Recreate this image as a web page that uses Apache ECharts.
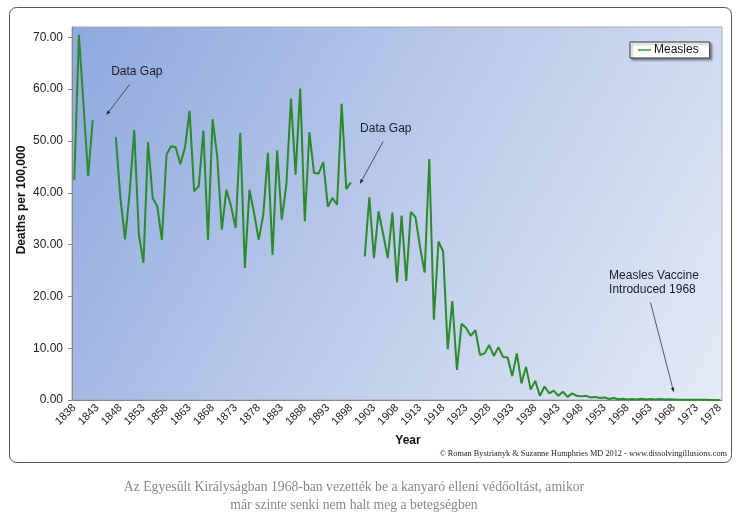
<!DOCTYPE html>
<html>
<head>
<meta charset="utf-8">
<script src="https://cdn.jsdelivr.net/npm/echarts@6/dist/echarts.min.js"></script>
<style>
html,body{margin:0;padding:0;background:#fff;}
#chart{width:754px;height:532px;}
</style>
</head>
<body>
<div id="chart"></div>
<script>
// years 1838 - 1978
var years = [];
for (var y = 1838; y <= 1978; y++) { years.push(String(y)); }

// deaths per 100,000 (null = data gap)
var measles = [
	42.5, 70.5, 57, 43.2, 54.1, null, null, null, null, 50.8,   // 1838-1847
	39, 31.0, 40, 52.1, 32, 26.5, 49.8, 39.0, 37.4, 30.9,      // 1848-1857
	47.4, 49.0, 48.8, 45.5, 48.7, 55.8, 40.3, 41.3, 52.0, 30.9, // 1858-1867
	54.2, 47, 32.9, 40.6, 37.4, 33.2, 51.6, 25.5, 40.6, 36.1,  // 1868-1877
	30.9, 35.8, 47.7, 28.0, 48.2, 34.8, 41.6, 58.2, 43.5, 60.1, // 1878-1887
	34.5, 51.7, 43.8, 43.7, 45.9, 37.3, 39.0, 37.7, 57.2, 40.7, // 1888-1897
	42.0, null, null, 27.7, 39.1, 27.4, 36.4, 32, 27.4, 36.2,  // 1898-1907
	22.7, 35.6, 23.0, 36.3, 35.3, 29.5, 24.6, 46.5, 15.5, 30.6, // 1908-1917
	28.7, 9.8, 19.1, 5.8, 14.7, 13.9, 12.4, 13.5, 8.7, 9.0,    // 1918-1927
	10.6, 8.5, 10.2, 8.3, 8.2, 4.6, 9.0, 3.2, 6.4, 2.0,        // 1928-1937
	3.7, 0.8, 2.6, 1.3, 1.8, 0.8, 1.6, 0.6, 1.3, 0.8,          // 1938-1947
	0.7, 0.8, 0.5, 0.6, 0.4, 0.5, 0.2, 0.4, 0.15, 0.25,        // 1948-1957
	0.1, 0.2, 0.1, 0.25, 0.1, 0.2, 0.1, 0.2, 0.1, 0.15,        // 1958-1967
	0.1, 0.05, 0.05, 0.04, 0.04, 0.03, 0.03, 0.03, 0.02, 0.02, // 1968-1977
	0.02                                                        // 1978
];

// annotation anchors in data space: text position, arrow start, arrow end
var notes = [
	{ text: 'Data Gap', at: ['1846', 63.4], from: ['1850', 60.9], to: ['1845', 55.1] },
	{ text: 'Data Gap', at: ['1900', 52.3], from: ['1905', 49.9], to: ['1900', 41.8] },
	{ text: 'Measles Vaccine\nIntroduced 1968', at: ['1954', 22.6], from: ['1963', 18.8], to: ['1968', 1.6] }
];

var chart = echarts.init(document.getElementById('chart'));
var option = {
	animation: false,
	backgroundColor: '#fff',
	grid: {
		left: 72, top: 27, right: 32, bottom: 132,
		show: true,
		borderColor: '#a8a8a8',
		borderWidth: 1,
		backgroundColor: new echarts.graphic.LinearGradient(0, 0, 1, 1, [
			{ offset: 0, color: '#8ea9de' },
			{ offset: 0.5, color: '#bccbea' },
			{ offset: 1, color: '#e4ebf7' }
		])
	},
	legend: {
		data: ['Measles'],
		left: 630, top: 42,
		padding: [2, 11, 2, 8],
		backgroundColor: '#fff',
		borderColor: '#333',
		borderWidth: 1,
		borderRadius: 0,
		shadowColor: 'rgba(0,0,0,0.35)',
		shadowBlur: 2,
		shadowOffsetX: 2,
		shadowOffsetY: 2,
		icon: 'rect',
		itemWidth: 13,
		itemHeight: 1.5,
		itemGap: 0,
		textStyle: { fontFamily: 'Liberation Sans', fontSize: 12, color: '#111', padding: [0, 0, 0, -2] }
	},
	xAxis: {
		type: 'category',
		data: years,
		boundaryGap: true,
		axisLine: { lineStyle: { color: '#888', width: 1 } },
		axisTick: { interval: 0, length: 3, lineStyle: { color: '#888' } },
		axisLabel: {
			interval: 4,
			rotate: 45,
			margin: 6,
			fontFamily: 'Liberation Sans',
			fontSize: 11,
			color: '#222'
		},
		splitLine: { show: false }
	},
	yAxis: {
		type: 'value',
		min: 0, max: 72, interval: 10,
		axisLine: { show: true, lineStyle: { color: '#888' } },
		axisTick: { show: true, length: 4, lineStyle: { color: '#888' } },
		axisLabel: {
			showMaxLabel: false,
			margin: 9,
			fontFamily: 'Liberation Sans',
			fontSize: 12,
			color: '#222',
			formatter: function (v) { return v.toFixed(2); }
		},
		splitLine: { show: false }
	},
	series: [{
		name: 'Measles',
		type: 'line',
		data: measles,
		connectNulls: false,
		showSymbol: false,
		symbol: 'none',
		lineStyle: { color: '#2b8a2b', width: 2 },
		itemStyle: { color: '#3a9a3a' }
	}]
};
chart.setOption(option);

// frame, axis titles, credits and caption
var g = [
	{
		type: 'rect', z: -1, silent: true,
		shape: { x: 9.5, y: 7.5, width: 722, height: 455, r: 7 },
		style: { fill: 'none', stroke: '#555', lineWidth: 1 }
	},
	{
		type: 'text', x: 408, y: 441,
		style: { text: 'Year', fill: '#111', font: 'bold 12px "Liberation Sans"', align: 'center', verticalAlign: 'middle' }
	},
	{
		type: 'text', x: 22, y: 200, rotation: Math.PI / 2,
		style: { text: 'Deaths per 100,000', fill: '#111', font: 'bold 12px "Liberation Sans"', align: 'center', verticalAlign: 'middle' }
	},
	{
		type: 'text', x: 727, y: 454,
		style: { text: '\u00a9 Roman Bystrianyk & Suzanne Humphries MD 2012 - www.dissolvingillusions.com', fill: '#222', font: '8.3px "Liberation Serif"', align: 'right', verticalAlign: 'middle' }
	},
	{
		type: 'text', x: 354, y: 487,
		style: { text: 'Az Egyes\u00fclt Kir\u00e1lys\u00e1gban 1968-ban vezett\u00e9k be a kanyar\u00f3 elleni v\u00e9d\u0151olt\u00e1st, amikor', fill: '#888', font: '13.7px "Liberation Serif"', align: 'center', verticalAlign: 'middle' }
	},
	{
		type: 'text', x: 354, y: 505,
		style: { text: 'm\u00e1r szinte senki nem halt meg a betegs\u00e9gben', fill: '#888', font: '13.7px "Liberation Serif"', align: 'center', verticalAlign: 'middle' }
	}
];

// annotations placed through the chart's own scales
notes.forEach(function (n) {
	var t = chart.convertToPixel({ gridIndex: 0 }, n.at);
	var a = chart.convertToPixel({ gridIndex: 0 }, n.from);
	var b = chart.convertToPixel({ gridIndex: 0 }, n.to);
	g.push({
		type: 'text', x: t[0], y: t[1],
		style: { text: n.text, fill: '#1a1a2a', font: '12px "Liberation Sans"', align: 'left', verticalAlign: 'middle', lineHeight: 14 }
	});
	g.push({
		type: 'line',
		shape: { x1: a[0], y1: a[1], x2: b[0], y2: b[1] },
		style: { stroke: '#333', lineWidth: 0.8 }
	});
	var ang = Math.atan2(b[1] - a[1], b[0] - a[0]);
	var L = 4, W = 1.8;
	g.push({
		type: 'polygon',
		shape: { points: [
			[b[0], b[1]],
			[b[0] - L * Math.cos(ang) + W * Math.sin(ang), b[1] - L * Math.sin(ang) - W * Math.cos(ang)],
			[b[0] - L * Math.cos(ang) - W * Math.sin(ang), b[1] - L * Math.sin(ang) + W * Math.cos(ang)]
		] },
		style: { fill: '#222' }
	});
});

chart.setOption({ graphic: g });
</script>
</body>
</html>
